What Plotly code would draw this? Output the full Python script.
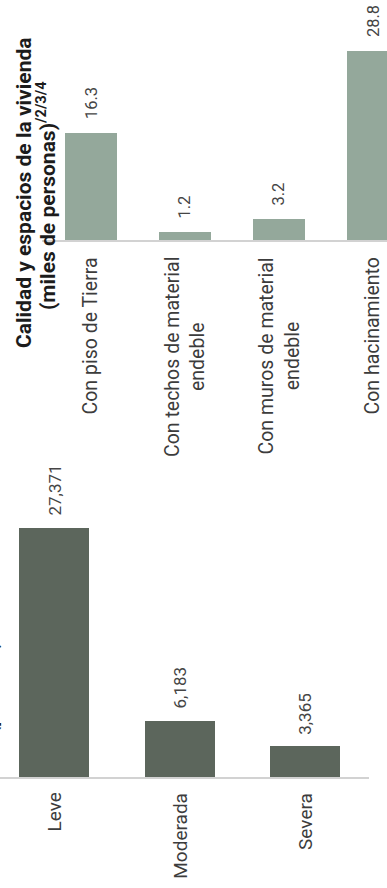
import plotly.graph_objects as go

# ---- data ----
top_categories = ["Con piso de Tierra", "Con techos de material<br>endeble",
                  "Con muros de material<br>endeble", "Con hacinamiento"]
top_values = [16.3, 1.2, 3.2, 28.8]

bottom_categories = ["Leve", "Moderada", "Severa"]
bottom_values = [27371, 6183, 3365]

top_title_line1 = "Calidad y espacios de la vivienda"
top_title_line2 = "(miles de personas)<sup>/2/3/4</sup>"
bottom_title_tail = "(personas)"

# ---- style ----
W, H = 387, 888
TOP_COLOR = "#94a89b"
BOT_COLOR = "#5c665c"
LINE_COLOR = "#d2d2d2"
LABEL_COLOR = "#3c3c3c"
VALUE_COLOR = "#454545"
TITLE_COLOR = "#1c1c1c"
FONT = "Roboto, 'Noto Sans', sans-serif"

fig = go.Figure()
fig.add_trace(go.Bar(x=top_categories, y=top_values, xaxis="x", yaxis="y",
                     marker=dict(color=TOP_COLOR, line=dict(width=0)),
                     width=0.553, hoverinfo="skip"))
fig.add_trace(go.Bar(x=bottom_categories, y=bottom_values, xaxis="x2", yaxis="y2",
                     marker=dict(color=BOT_COLOR, line=dict(width=0)),
                     width=0.557, hoverinfo="skip"))

annotations = []
# top value labels
for c, v in zip(top_categories, top_values):
    annotations.append(dict(xref="x", yref="y", x=c, y=v, text=f"{v:.1f}",
                            textangle=-90, showarrow=False, xanchor="center",
                            yanchor="bottom", yshift=12,
                            font=dict(family=FONT, size=16.5, color=VALUE_COLOR)))
# top category labels
for c in top_categories:
    annotations.append(dict(xref="x", yref="y", x=c, y=0, text=c, align="center",
                            textangle=-90, showarrow=False, xanchor="center",
                            yanchor="top", yshift=-15,
                            font=dict(family=FONT, size=19.5, color=LABEL_COLOR)))
# bottom value labels
for c, v in zip(bottom_categories, bottom_values):
    annotations.append(dict(xref="x2", yref="y2", x=c, y=v, text=f"{v:,}",
                            textangle=-90, showarrow=False, xanchor="center",
                            yanchor="bottom", yshift=10,
                            font=dict(family=FONT, size=17, color=VALUE_COLOR)))
# bottom category labels
for c in bottom_categories:
    annotations.append(dict(xref="x2", yref="y2", x=c, y=0, text=c, align="center",
                            textangle=-90, showarrow=False, xanchor="center",
                            yanchor="top", yshift=-14,
                            font=dict(family=FONT, size=19, color=LABEL_COLOR)))
# titles
annotations.append(dict(xref="paper", yref="paper", x=24 / W, y=1 - 193 / H,
                        text=f"<b>{top_title_line1}</b>", textangle=-90,
                        showarrow=False, xanchor="center", yanchor="middle",
                        font=dict(family=FONT, size=21, color=TITLE_COLOR)))
annotations.append(dict(xref="paper", yref="paper", x=46 / W, y=1 - 196 / H,
                        text=f"<b>{top_title_line2}</b>", textangle=-90,
                        showarrow=False, xanchor="center", yanchor="middle",
                        font=dict(family=FONT, size=21, color=TITLE_COLOR)))
annotations.append(dict(xref="paper", yref="paper", x=0, y=1 - 688 / H,
                        text=f"<b>{bottom_title_tail}</b>", textangle=-90,
                        showarrow=False, xanchor="right", yanchor="middle", xshift=3,
                        font=dict(family=FONT, size=19, color=TITLE_COLOR)))

axis_common = dict(showgrid=False, zeroline=False, showticklabels=False, ticks="",
                   fixedrange=True)

fig.update_layout(
    width=W, height=H,
    margin=dict(l=0, r=0, t=0, b=0),
    paper_bgcolor="white", plot_bgcolor="white",
    showlegend=False,
    xaxis=dict(domain=[42 / W, 1], range=[-0.521, 3.149], anchor="y",
               showline=True, linecolor=LINE_COLOR, linewidth=1.5, type="category",
               **axis_common),
    yaxis=dict(domain=[1 - 240 / H, 1], range=[0, 240 / 6.56], anchor="x",
               visible=False, **axis_common),
    xaxis2=dict(domain=[0, 369 / W], range=[-0.43, 2.506], anchor="y2",
                showline=True, linecolor=LINE_COLOR, linewidth=1.5, type="category",
                **axis_common),
    yaxis2=dict(domain=[1 - 777 / H, 1 - 460 / H], range=[0, 317 * 27371 / 249],
                anchor="x2", visible=False, **axis_common),
    annotations=annotations,
    bargap=0,
)

fig.write_html("out.html", config={"displayModeBar": False},
               post_script="document.body.style.margin='0';document.body.style.overflow='hidden';")
